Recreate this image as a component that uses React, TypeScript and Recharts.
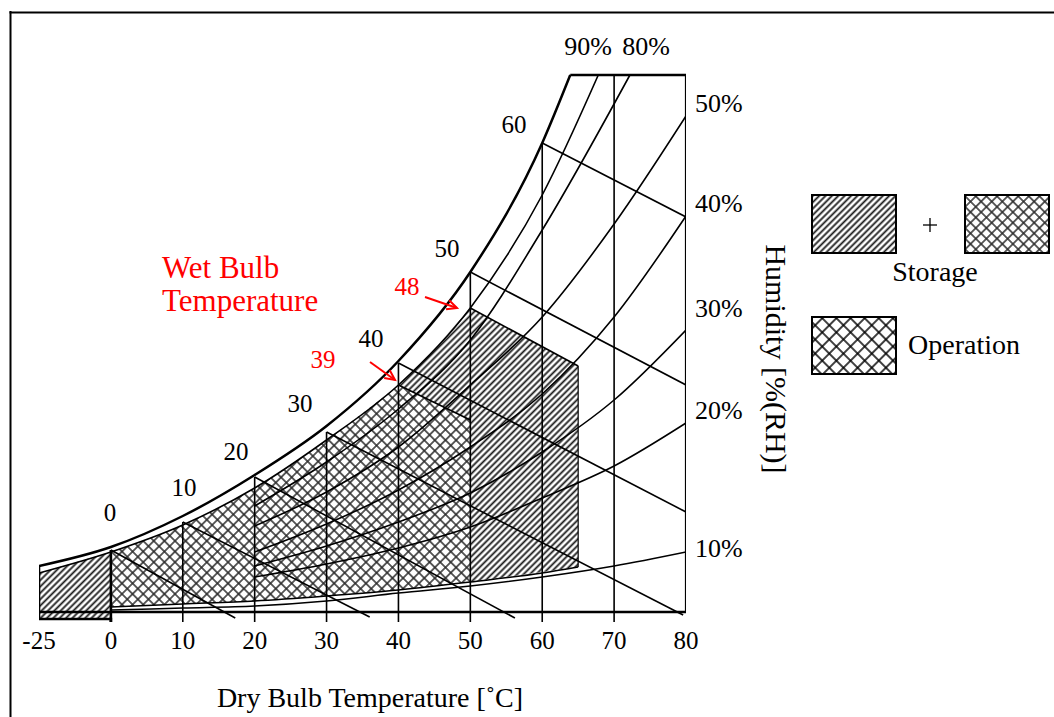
import React from 'react';
import { ComposedChart, Line, Area, XAxis, YAxis } from 'recharts';

// Dry bulb temperature ticks (°C). The -25..0 span is drawn compressed.
const dryBulbTicks = [-25, 0, 10, 20, 30, 40, 50, 60, 70, 80];

// Chart "height" values (humidity ratio, chart units)
const saturation = [
  { t: -25, h: 46 }, { t: 0, h: 65 }, { t: 10, h: 96 }, { t: 20, h: 137 },
  { t: 30, h: 186 }, { t: 40, h: 251 }, { t: 50, h: 340 }, { t: 60, h: 469 }, { t: 63.9, h: 537 },
];
const rh90 = [
  { t: -25, h: 39 }, { t: 0, h: 60 }, { t: 10, h: 87 }, { t: 20, h: 124 }, { t: 30, h: 172 },
  { t: 40, h: 227 }, { t: 50, h: 304 }, { t: 60, h: 417 }, { t: 67.8, h: 537 },
];
const rh80 = [
  { t: 20, h: 106 }, { t: 30, h: 150 }, { t: 40, h: 203 }, { t: 50, h: 272 }, { t: 60, h: 382 }, { t: 72.2, h: 537 },
];
const rh50 = [
  { t: 20, h: 86 }, { t: 30, h: 120 }, { t: 40, h: 165 }, { t: 50, h: 227 }, { t: 60, h: 295 }, { t: 70, h: 388 }, { t: 80, h: 496 },
];
const rh40 = [
  { t: 20, h: 60 }, { t: 30, h: 88 }, { t: 40, h: 122 }, { t: 50, h: 165 }, { t: 60, h: 218 }, { t: 70, h: 295 }, { t: 80, h: 396 },
];
const rh30 = [
  { t: 20, h: 46 }, { t: 30, h: 66 }, { t: 40, h: 90 }, { t: 50, h: 119 }, { t: 60, h: 160 }, { t: 70, h: 212 }, { t: 80, h: 282 },
];
const rh20 = [
  { t: 20, h: 35 }, { t: 30, h: 48 }, { t: 40, h: 64 }, { t: 50, h: 85 }, { t: 60, h: 114 }, { t: 70, h: 146 }, { t: 80, h: 189 },
];
const rh10 = [
  { t: 0, h: 2 }, { t: 10, h: 4 }, { t: 20, h: 6 }, { t: 30, h: 11 }, { t: 40, h: 19 },
  { t: 50, h: 26 }, { t: 60, h: 35 }, { t: 70, h: 46 }, { t: 80, h: 60 },
];
const regionFloor = [
  { t: 0, h: 5 }, { t: 10, h: 8 }, { t: 20, h: 11 }, { t: 30, h: 16 }, { t: 40, h: 22 },
  { t: 50, h: 30 }, { t: 60, h: 39 }, { t: 65, h: 45 },
];
// Vertical dry-bulb lines: top ends
const dryBulbLineTops = [
  { t: 0, h: 62 }, { t: 10, h: 90 }, { t: 20, h: 135 }, { t: 30, h: 180 },
  { t: 40, h: 249 }, { t: 50, h: 340 }, { t: 60, h: 469 }, { t: 70, h: 537 },
];
const lineBottom = -10;
// Wet bulb lines: start and end
const wetBulbLines = [
  { label: '0', t0: 0, h0: 62, t1: 17.3, h1: -6 },
  { label: '10', t0: 10, h0: 90, t1: 36, h1: -5 },
  { label: '20', t0: 20, h0: 135, t1: 56.2, h1: -6 },
  { label: '30', t0: 30, h0: 180, t1: 79.6, h1: -3 },
  { label: '40', t0: 40, h0: 249, t1: 80, h1: 100 },
  { label: '50', t0: 50, h0: 340, t1: 80, h1: 227 },
  { label: '60', t0: 60, h0: 469, t1: 80, h1: 395 },
];
const storageEdge48 = { t0: 50, h0: 304, t1: 65, h1: 246 };
const operationEdge39 = { t0: 40, h0: 227, t1: 50, h1: 192 };
const coldBox = { t0: -25, t1: 0, bottom: -7 };
const chartTop = 537;

const plotX = (t: number) => (t < 0 ? t * 0.4 : t);
const toXY = (pts: { t: number; h: number }[]) => pts.map((p) => ({ x: plotX(p.t), y: p.h }));
const seg = (t0: number, h0: number, t1: number, h1: number) => [
  { x: plotX(t0), y: h0 },
  { x: plotX(t1), y: h1 },
];
const rangeData = (top: { t: number; h: number }[], floor: { t: number; h: number }[], from: number, to: number) =>
  top
    .filter((p) => p.t >= from && p.t <= to)
    .map((p) => {
      const f = floor.find((q) => q.t === p.t);
      return { x: plotX(p.t), y: [f ? f.h : 0, p.h] };
    });

const FONT = 'Liberation Serif, Times New Roman, serif';

const arrowHead = (x0: number, y0: number, x1: number, y1: number, len = 11, ang = 0.45) => {
  const a = Math.atan2(y1 - y0, x1 - x0);
  const p1 = [x1 - len * Math.cos(a - ang), y1 - len * Math.sin(a - ang)];
  const p2 = [x1 - len * Math.cos(a + ang), y1 - len * Math.sin(a + ang)];
  return `${p1[0]},${p1[1]} ${x1},${y1} ${p2[0]},${p2[1]}`;
};

export default function App() {
  const lineProps = { dot: false, activeDot: false, isAnimationActive: false, stroke: '#000' } as any;
  const floorAt = (t: number) => (regionFloor.find((p) => p.t === t) as any).h;

  const storageMain = rangeData(rh90, regionFloor, 0, 50);
  const storageWedge = [
    { x: plotX(storageEdge48.t0), y: [floorAt(50), storageEdge48.h0] },
    { x: plotX(storageEdge48.t1), y: [floorAt(65), storageEdge48.h1] },
  ];
  const boxTop = rh90.filter((p) => p.t <= 0);
  const storageBox = boxTop.map((p) => ({ x: plotX(p.t), y: [coldBox.bottom, p.h] }));
  const operationMain = rangeData(rh90, regionFloor, 0, 40);
  const operationWedge = [
    { x: plotX(operationEdge39.t0), y: [floorAt(40), operationEdge39.h0] },
    { x: plotX(operationEdge39.t1), y: [floorAt(50), operationEdge39.h1] },
  ];
  const satStart = saturation[0].h;

  return (
    <div style={{ position: 'absolute', left: 0, top: 0, width: 1054, height: 717, background: '#fff', overflow: 'hidden' }}>
      <svg width={0} height={0} style={{ position: 'absolute' }}>
        <defs>
          <pattern id="storageHatch" patternUnits="userSpaceOnUse" width="4.5" height="4.5" patternTransform="rotate(45)">
            <rect width="4.5" height="4.5" fill="#fff" />
            <line x1="2.25" y1="0" x2="2.25" y2="4.5" stroke="#1a1a1a" strokeWidth="1.8" />
          </pattern>
          <pattern id="opHatch" patternUnits="userSpaceOnUse" width="7.5" height="7.5" patternTransform="rotate(45)">
            <rect width="7.5" height="7.5" fill="#fff" />
            <line x1="3.75" y1="0" x2="3.75" y2="7.5" stroke="#2a2a2a" strokeWidth="1.5" />
            <line x1="0" y1="3.75" x2="7.5" y2="3.75" stroke="#2a2a2a" strokeWidth="1.5" />
          </pattern>
          <pattern id="opLegendHatch" patternUnits="userSpaceOnUse" width="10" height="10" patternTransform="translate(2 0) rotate(45)">
            <rect width="10" height="10" fill="#fff" />
            <line x1="5" y1="0" x2="5" y2="10" stroke="#000" strokeWidth="1.5" />
            <line x1="0" y1="5" x2="10" y2="5" stroke="#000" strokeWidth="1.5" />
          </pattern>
        </defs>
      </svg>

      <ComposedChart width={1054} height={717} margin={{ top: 72, right: 368, left: 39, bottom: 65 }}>
        <XAxis
          type="number"
          dataKey="x"
          domain={[-10, 80]}
          allowDataOverflow
          ticks={dryBulbTicks.map(plotX)}
          interval={0}
          tickFormatter={(v: number) => {
            const d = dryBulbTicks.find((t) => Math.abs(plotX(t) - v) < 1e-6);
            return d === undefined ? '' : String(d);
          }}
          axisLine={false}
          tickLine={false}
          tickSize={6}
          tickMargin={3}
          height={30}
          tick={{ fill: '#000', fontSize: 25, fontFamily: FONT }}
        />
        <YAxis type="number" dataKey="y" domain={[-10, 540]} allowDataOverflow hide width={0} />

        <Area data={storageBox} dataKey="y" type="linear" fill="url(#storageHatch)" fillOpacity={1} stroke="none" isAnimationActive={false} />
        <Area data={storageMain} dataKey="y" type="monotone" fill="url(#storageHatch)" fillOpacity={1} stroke="none" isAnimationActive={false} />
        <Area data={storageWedge} dataKey="y" type="linear" fill="url(#storageHatch)" fillOpacity={1} stroke="none" isAnimationActive={false} />
        <Area data={operationMain} dataKey="y" type="monotone" fill="url(#opHatch)" fillOpacity={1} stroke="none" isAnimationActive={false} />
        <Area data={operationWedge} dataKey="y" type="linear" fill="url(#opHatch)" fillOpacity={1} stroke="none" isAnimationActive={false} />

        {dryBulbLineTops.map((p) => (
          <Line key={'v' + p.t} {...lineProps} data={seg(p.t, lineBottom, p.t, p.h)} dataKey="y" type="linear" strokeWidth={1.6} />
        ))}
        <Line {...lineProps} data={seg(80, 0, 80, chartTop)} dataKey="y" type="linear" strokeWidth={2.2} />
        <Line {...lineProps} data={seg(63.9, chartTop, 80, chartTop)} dataKey="y" type="linear" strokeWidth={2.4} />
        <Line {...lineProps} data={seg(-25, 0, 80, 0)} dataKey="y" type="linear" strokeWidth={2.6} />
        <Line
          {...lineProps}
          data={[
            { x: plotX(coldBox.t0), y: satStart },
            { x: plotX(coldBox.t0), y: coldBox.bottom },
            { x: plotX(coldBox.t1), y: coldBox.bottom },
            { x: plotX(coldBox.t1), y: lineBottom },
          ]}
          dataKey="y"
          type="linear"
          strokeWidth={2.6}
        />
        <Line {...lineProps} data={seg(0, lineBottom, 0, 62)} dataKey="y" type="linear" strokeWidth={2.6} />

        <Line {...lineProps} data={toXY(rh10)} dataKey="y" type="monotone" strokeWidth={1.5} />
        <Line {...lineProps} data={toXY(regionFloor)} dataKey="y" type="monotone" strokeWidth={1.5} />
        <Line {...lineProps} data={toXY(rh20)} dataKey="y" type="monotone" strokeWidth={1.6} />
        <Line {...lineProps} data={toXY(rh30)} dataKey="y" type="monotone" strokeWidth={1.6} />
        <Line {...lineProps} data={toXY(rh40)} dataKey="y" type="monotone" strokeWidth={1.6} />
        <Line {...lineProps} data={toXY(rh50)} dataKey="y" type="monotone" strokeWidth={1.6} />
        <Line {...lineProps} data={toXY(rh80)} dataKey="y" type="monotone" strokeWidth={1.6} />
        <Line {...lineProps} data={toXY(rh90)} dataKey="y" type="monotone" strokeWidth={1.6} />
        <Line {...lineProps} data={toXY(saturation)} dataKey="y" type="monotone" strokeWidth={2.5} />

        {wetBulbLines.map((w) => (
          <Line key={'wb' + w.label} {...lineProps} data={seg(w.t0, w.h0, w.t1, w.h1)} dataKey="y" type="linear" strokeWidth={1.6} />
        ))}
        <Line {...lineProps} data={seg(storageEdge48.t0, storageEdge48.h0, storageEdge48.t1, storageEdge48.h1)} dataKey="y" type="linear" strokeWidth={1.6} />
        <Line {...lineProps} data={seg(65, floorAt(65), 65, storageEdge48.h1)} dataKey="y" type="linear" strokeWidth={1.2} />
        <Line {...lineProps} data={seg(operationEdge39.t0, operationEdge39.h0, operationEdge39.t1, operationEdge39.h1)} dataKey="y" type="linear" strokeWidth={1.6} />
      </ComposedChart>

      <svg width={1054} height={717} style={{ position: 'absolute', left: 0, top: 0, pointerEvents: 'none' }} fontFamily={FONT}>
        {/* frame */}
        <line x1={10.5} y1={11} x2={10.5} y2={717} stroke="#000" strokeWidth={2} />
        <line x1={9.5} y1={12.5} x2={1054} y2={12.5} stroke="#000" strokeWidth={2} />

        {/* RH labels */}
        <g fontSize={26} fill="#000">
          <text x={588} y={55} textAnchor="middle">90%</text>
          <text x={646} y={55} textAnchor="middle">80%</text>
          <text x={695} y={112}>50%</text>
          <text x={695} y={212}>40%</text>
          <text x={695} y={317}>30%</text>
          <text x={695} y={419}>20%</text>
          <text x={695} y={557}>10%</text>
        </g>

        {/* wet bulb labels */}
        <g fontSize={25} fill="#000" textAnchor="middle">
          <text x={110} y={521}>0</text>
          <text x={184} y={496}>10</text>
          <text x={236} y={460}>20</text>
          <text x={300} y={412}>30</text>
          <text x={371} y={347}>40</text>
          <text x={447} y={257}>50</text>
          <text x={514} y={133}>60</text>
        </g>

        <g fill="#ff0000">
          <text x={162} y={278} fontSize={31}>Wet Bulb</text>
          <text x={162} y={311} fontSize={31}>Temperature</text>
          <text x={407} y={295} fontSize={25} textAnchor="middle">48</text>
          <text x={323} y={368} fontSize={25} textAnchor="middle">39</text>
        </g>
        <g stroke="#ff0000" strokeWidth={2} fill="none">
          <line x1={425} y1={297} x2={457} y2={308} />
          <polyline points={arrowHead(425, 297, 457, 308)} />
          <line x1={370} y1={362} x2={395} y2={380} />
          <polyline points={arrowHead(370, 362, 395, 380)} />
        </g>

        {/* axis titles */}
        <text x={370} y={707} fontSize={28} textAnchor="middle" fill="#000">Dry Bulb Temperature [˚C]</text>
        <text
          x={776}
          y={359}
          fontSize={30}
          textAnchor="middle"
          dominantBaseline="central"
          fill="#000"
          transform="rotate(90 776 359)"
        >
          Humidity [%(RH)]
        </text>

        {/* legend */}
        <rect x={812} y={195} width={84} height={58} fill="url(#storageHatch)" stroke="#000" strokeWidth={2} />
        <g stroke="#000" strokeWidth={1.3}>
          <line x1={923} y1={225} x2={937} y2={225} />
          <line x1={930} y1={218} x2={930} y2={232} />
        </g>
        <rect x={965} y={195} width={84} height={58} fill="url(#opHatch)" stroke="#000" strokeWidth={2} />
        <text x={935} y={281} fontSize={28} textAnchor="middle" fill="#000">Storage</text>
        <rect x={812} y={317} width={84} height={57} fill="url(#opLegendHatch)" stroke="#000" strokeWidth={2} />
        <text x={908} y={354} fontSize={28} fill="#000">Operation</text>
      </svg>
    </div>
  );
}
